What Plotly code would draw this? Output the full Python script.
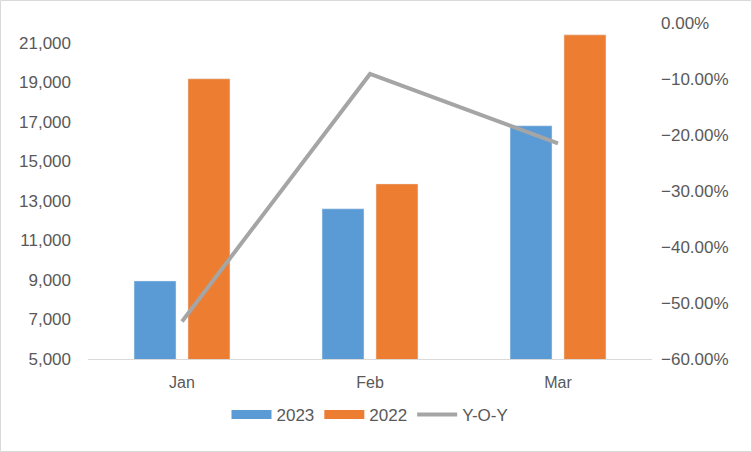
import plotly.graph_objects as go

months = ["Jan", "Feb", "Mar"]
sales_2023 = [8950, 12600, 16800]
sales_2022 = [19180, 13860, 21400]
yoy = [-0.533, -0.091, -0.215]

W, H = 752, 452
ml, mr, mt, mb = 88, 100, 23, 93
pw, ph = W - ml - mr, H - mt - mb

C23, C22, CY = "#5B9BD5", "#ED7D31", "#A5A5A5"
TXT = "#595959"

fig = go.Figure()
fig.add_trace(go.Bar(x=months, y=sales_2023, name="2023", marker_color=C23, showlegend=False))
fig.add_trace(go.Bar(x=months, y=sales_2022, name="2022", marker_color=C22, showlegend=False))
fig.add_trace(go.Scatter(x=months, y=yoy, name="Y-O-Y", yaxis="y2", mode="lines",
                         line=dict(color=CY, width=4), showlegend=False))
# legend proxies
for nm, col, wd in [("2023", C23, 9), ("2022", C22, 9), ("Y-O-Y", CY, 4)]:
    fig.add_trace(go.Scatter(x=[None], y=[None], mode="lines", name=nm,
                             line=dict(color=col, width=wd)))

fig.update_layout(
    width=W, height=H,
    margin=dict(l=ml, r=mr, t=mt, b=mb, autoexpand=False),
    paper_bgcolor="white", plot_bgcolor="white",
    font=dict(family="Liberation Sans, Arial, sans-serif", size=16, color=TXT),
    barmode="group", bargap=0.426, bargroupgap=0.222,
    xaxis=dict(showline=True, linecolor="#D9D9D9", linewidth=1, ticks="", showgrid=False,
               automargin=False, tickfont=dict(size=16, color=TXT), ticklabelstandoff=9),
    yaxis=dict(range=[5000, 22000], tickvals=list(range(5000, 22000, 2000)),
               tickformat=",d", showgrid=False, showline=False, zeroline=False, automargin=False,
               tickfont=dict(size=17, color=TXT), ticklabelstandoff=16),
    yaxis2=dict(overlaying="y", side="right", range=[-0.6, 0], dtick=0.1,
                tickformat=".2%", showgrid=False, showline=False, zeroline=False, automargin=False,
                tickfont=dict(size=17, color=TXT), ticklabelstandoff=8),
    legend=dict(orientation="h", x=0.5, xanchor="center", y=-56 / ph, yanchor="middle",
                font=dict(size=17, color=TXT), itemwidth=40, tracegroupgap=0,
                bgcolor="rgba(0,0,0,0)"),
    showlegend=True,
)
fig.add_shape(type="rect", xref="paper", yref="paper",
              x0=-(ml - 0.5) / pw, x1=1 + (mr - 0.5) / pw,
              y0=-(mb - 0.5) / ph, y1=1 + (mt - 0.5) / ph,
              line=dict(color="#D9D9D9", width=1), fillcolor="rgba(0,0,0,0)", layer="below")

fig.write_html("out.html", config={"displayModeBar": False},
               post_script="document.body.style.margin='0';document.body.style.overflow='hidden';")
